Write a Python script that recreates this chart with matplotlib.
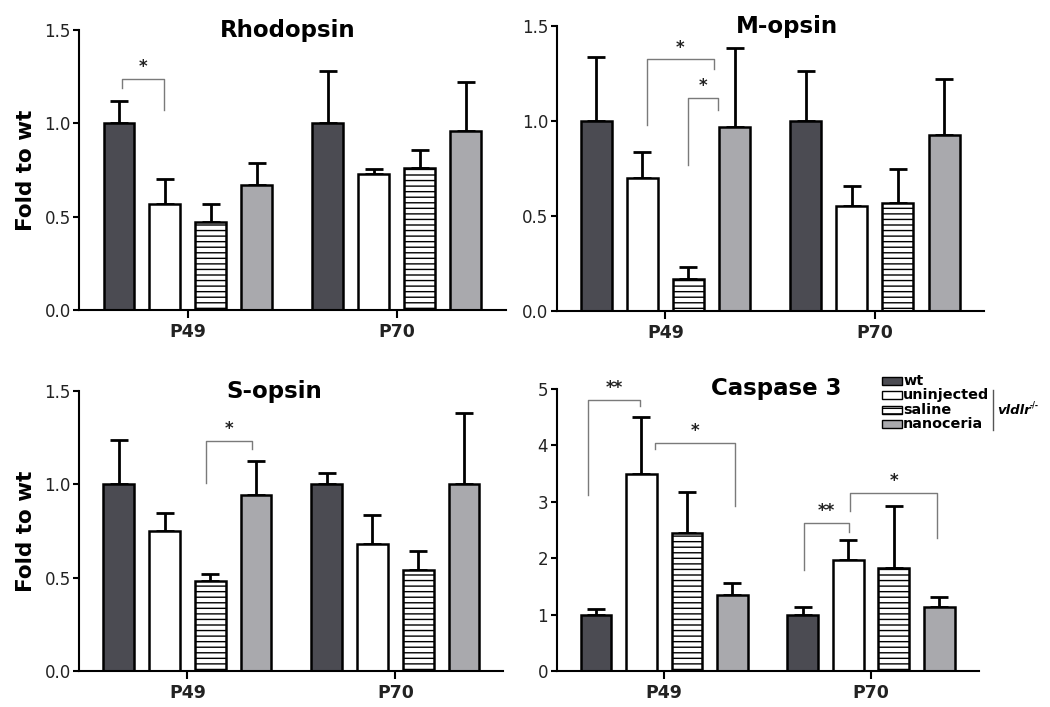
import numpy as np
import matplotlib
matplotlib.use('Agg')
import matplotlib.pyplot as plt
from matplotlib.patches import Rectangle
from matplotlib.lines import Line2D

plt.rcParams['font.family'] = ['DejaVu Sans']
plt.rcParams['hatch.linewidth'] = 1.0

GROUPS = ['P49', 'P70']
CONDITIONS = ['wt', 'uninjected', 'saline', 'nanoceria']

# mean values per group (rows) and condition (cols), upper error bars
rhodopsin_mean = [[1.00, 0.57, 0.47, 0.67], [1.00, 0.73, 0.76, 0.96]]
rhodopsin_err = [[0.12, 0.13, 0.10, 0.12], [0.28, 0.025, 0.10, 0.26]]
mopsin_mean = [[1.00, 0.70, 0.17, 0.97], [1.00, 0.555, 0.57, 0.925]]
mopsin_err = [[0.34, 0.14, 0.063, 0.415], [0.265, 0.105, 0.18, 0.295]]
sopsin_mean = [[1.00, 0.75, 0.48, 0.945], [1.00, 0.68, 0.54, 1.00]]
sopsin_err = [[0.24, 0.095, 0.04, 0.18], [0.06, 0.155, 0.105, 0.385]]
caspase_mean = [[1.00, 3.49, 2.44, 1.35], [1.00, 1.96, 1.83, 1.14]]
caspase_err = [[0.10, 1.01, 0.73, 0.205], [0.14, 0.37, 1.10, 0.17]]

# significance brackets: x_left, x_right, y_left_end, y_right_end, y_top, label
rhodopsin_sig = [(-0.316, -0.115, 1.19, 1.07, 1.24, '*')]
mopsin_sig = [(-0.09, 0.233, 0.98, 1.277, 1.325, '*'),
              (0.11, 0.253, 0.77, 1.06, 1.12, '*')]
sopsin_sig = [(0.09, 0.31, 1.005, 1.19, 1.232, '*')]
caspase_sig = [(-0.367, -0.116, 3.12, 4.69, 4.81, '**'),
               (-0.043, 0.343, 3.93, 2.92, 4.04, '*'),
               (0.676, 0.894, 1.79, 2.47, 2.62, '**'),
               (0.899, 1.319, 2.83, 2.36, 3.15, '*')]

FACES = ['#4b4b52', 'white', 'white', '#a9a9ad']
HATCHES = [None, None, '---', None]
SPACING = 0.22
WIDTH = 0.148


def draw_panel(ax, mean, err, sig, title, title_x, ymax, yticks, fmt, ylabel=None):
    mean = np.array(mean)
    err = np.array(err)
    for c in range(len(CONDITIONS)):
        xs = np.arange(len(GROUPS)) + (c - 1.5) * SPACING
        ax.bar(xs, mean[:, c], WIDTH, color=FACES[c], edgecolor='black',
               linewidth=1.8, hatch=HATCHES[c], zorder=2)
        ax.errorbar(xs, mean[:, c], yerr=[np.zeros(len(GROUPS)), err[:, c]],
                    fmt='none', ecolor='black', elinewidth=2.0, capsize=6.5,
                    capthick=2.0, zorder=1)
    for xl, xr, yl, yr, yt, lab in sig:
        ax.plot([xl, xl, xr, xr], [yl, yt, yt, yr], color='#7a7a7a', lw=1.0, zorder=3)
        ax.text((xl + xr) / 2, yt + ymax * 0.01, lab, ha='center', va='bottom',
                fontsize=12, fontweight='bold', color='#222222')
    ax.set_xlim(-0.52, 1.52)
    ax.set_ylim(0, ymax)
    ax.set_yticks(yticks)
    ax.set_yticklabels([fmt.format(v) for v in yticks], fontsize=12, color='#222222')
    ax.set_xticks(range(len(GROUPS)))
    ax.set_xticklabels(GROUPS, fontsize=12.5, fontweight='bold', color='#222222')
    ax.tick_params(axis='x', length=6, width=1.5, direction='out', pad=3)
    ax.tick_params(axis='y', length=4, width=1.5, pad=2)
    for s in ['top', 'right']:
        ax.spines[s].set_visible(False)
    for s in ['left', 'bottom']:
        ax.spines[s].set_linewidth(1.5)
    ax.text(title_x, 1.0, title, transform=ax.transAxes, ha='center', va='center',
            fontsize=16.5, fontweight='bold')
    if ylabel:
        ax.set_ylabel(ylabel, fontsize=15.5, fontweight='bold', labelpad=6)


fig = plt.figure(figsize=(10.5, 7.07), dpi=100)
ax1 = fig.add_axes([0.0755, 0.5615, 0.406, 0.396])
ax2 = fig.add_axes([0.530, 0.560, 0.407, 0.403])
ax3 = fig.add_axes([0.0755, 0.0509, 0.404, 0.396])
ax4 = fig.add_axes([0.530, 0.0509, 0.402, 0.399])

draw_panel(ax1, rhodopsin_mean, rhodopsin_err, rhodopsin_sig, 'Rhodopsin', 0.49,
           1.5, [0, 0.5, 1.0, 1.5], '{:.1f}', 'Fold to wt')
draw_panel(ax2, mopsin_mean, mopsin_err, mopsin_sig, 'M-opsin', 0.54,
           1.5, [0, 0.5, 1.0, 1.5], '{:.1f}')
draw_panel(ax3, sopsin_mean, sopsin_err, sopsin_sig, 'S-opsin', 0.46,
           1.5, [0, 0.5, 1.0, 1.5], '{:.1f}', 'Fold to wt')
draw_panel(ax4, caspase_mean, caspase_err, caspase_sig, 'Caspase 3', 0.52,
           5, [0, 1, 2, 3, 4, 5], '{:d}')

# legend drawn by hand to get the tight GraphPad-like spacing
leg_x, leg_top, row_h = 882 / 1050, 1 - 381 / 707, 14.3 / 707
for i, lab in enumerate(CONDITIONS):
    yc = leg_top - i * row_h
    fig.add_artist(Rectangle((leg_x, yc - 4 / 707), 20 / 1050, 8 / 707,
                             transform=fig.transFigure, facecolor=FACES[i],
                             edgecolor='black', linewidth=1.0, hatch=HATCHES[i]))
    fig.text(leg_x + 21 / 1050, yc, lab, fontsize=10.4, fontweight='bold',
             va='center', ha='left')
fig.add_artist(Line2D([993 / 1050, 993 / 1050], [1 - 430 / 707, 1 - 390 / 707],
                      transform=fig.transFigure, color='#555555', lw=1.0))
fig.text(997 / 1050, 1 - 410 / 707, 'vldlr', fontsize=9.5, fontstyle='italic',
         fontweight='bold', va='center', ha='left')
fig.text(1030 / 1050, 1 - 405 / 707, '-/-', fontsize=5.5, fontweight='bold',
         va='center', ha='left')

fig.savefig('out.png', dpi=100)
